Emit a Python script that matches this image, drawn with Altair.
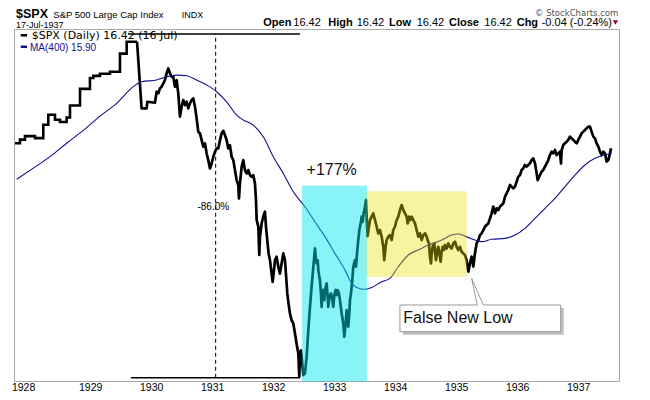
import altair as alt
import pandas as pd

# ---------------- data ----------------
# early part of the series is drawn as steps
step_year = [1927.76, 1927.841, 1927.923, 1928.087, 1928.223, 1928.305, 1928.415, 1928.497,
             1928.606, 1928.661, 1928.825, 1928.988, 1929.043, 1929.152, 1929.316, 1929.480,
             1929.590, 1929.760]
step_close = [16.9, 17.25, 17.6, 17.4, 18.8, 19.9, 19.35, 19.1,
              19.6, 21.0, 23.1, 24.6, 24.9, 25.2, 25.5, 28.3,
              30.3, 30.3]

daily_year = [
    1929.760, 1929.835, 1929.917, 1929.928, 1930.054, 1930.081, 1930.109, 1930.136, 1930.163, 1930.191,
    1930.218, 1930.245, 1930.272, 1930.300, 1930.327, 1930.354, 1930.382, 1930.409, 1930.436, 1930.464,
    1930.491, 1930.518, 1930.546, 1930.573, 1930.600, 1930.628, 1930.655, 1930.682, 1930.710, 1930.737,
    1930.764, 1930.792, 1930.819, 1930.846, 1930.874, 1930.901, 1930.928, 1930.956, 1930.983, 1931.010,
    1931.038, 1931.065, 1931.092, 1931.120, 1931.147, 1931.174, 1931.201, 1931.229, 1931.256, 1931.283,
    1931.311, 1931.338, 1931.365, 1931.393, 1931.420, 1931.431, 1931.447, 1931.475, 1931.502, 1931.529,
    1931.557, 1931.584, 1931.611, 1931.639, 1931.666, 1931.693, 1931.710, 1931.721, 1931.748, 1931.764,
    1931.775, 1931.803, 1931.830, 1931.857, 1931.874, 1931.895, 1931.917, 1931.939, 1931.966, 1931.983,
    1932.005, 1932.021, 1932.048, 1932.076, 1932.103, 1932.130, 1932.158, 1932.185, 1932.201, 1932.223,
    1932.251, 1932.267, 1932.294, 1932.322, 1932.349, 1932.376, 1932.404, 1932.420, 1932.431, 1932.447,
    1932.464, 1932.486, 1932.513, 1932.540, 1932.568, 1932.595, 1932.622, 1932.650, 1932.677, 1932.688,
    1932.704, 1932.721, 1932.732, 1932.748, 1932.759, 1932.775, 1932.786, 1932.797, 1932.813, 1932.830,
    1932.841, 1932.868, 1932.885, 1932.895, 1932.912, 1932.939, 1932.961, 1932.977, 1932.994, 1933.016,
    1933.032, 1933.048, 1933.070, 1933.087, 1933.114, 1933.141, 1933.158, 1933.180, 1933.196, 1933.212,
    1933.223, 1933.240, 1933.251, 1933.267, 1933.289, 1933.305, 1933.333, 1933.349, 1933.371, 1933.387,
    1933.404, 1933.431, 1933.442, 1933.458, 1933.475, 1933.497, 1933.513, 1933.529, 1933.540, 1933.562,
    1933.579, 1933.606, 1933.633, 1933.661, 1933.688, 1933.715, 1933.742, 1933.770, 1933.797, 1933.813,
    1933.835, 1933.852, 1933.879, 1933.906, 1933.934, 1933.961, 1933.988, 1934.016, 1934.043, 1934.070,
    1934.098, 1934.125, 1934.152, 1934.180, 1934.196, 1934.218, 1934.240, 1934.262, 1934.289, 1934.316,
    1934.344, 1934.371, 1934.398, 1934.426, 1934.453, 1934.480, 1934.508, 1934.524, 1934.546, 1934.562,
    1934.579, 1934.590, 1934.606, 1934.633, 1934.644, 1934.661, 1934.682, 1934.699, 1934.715, 1934.737,
    1934.753, 1934.770, 1934.792, 1934.808, 1934.835, 1934.863, 1934.890, 1934.917, 1934.945, 1934.972,
    1934.999, 1935.027, 1935.054, 1935.081, 1935.109, 1935.136, 1935.163, 1935.191, 1935.218, 1935.245,
    1935.273, 1935.300, 1935.327, 1935.355, 1935.382, 1935.409, 1935.437, 1935.464, 1935.491, 1935.518,
    1935.546, 1935.573, 1935.600, 1935.628, 1935.655, 1935.682, 1935.710, 1935.737, 1935.764, 1935.792,
    1935.819, 1935.846, 1935.874, 1935.901, 1935.928, 1935.956, 1935.983, 1936.010, 1936.038, 1936.065,
    1936.092, 1936.120, 1936.147, 1936.174, 1936.202, 1936.229, 1936.256, 1936.284, 1936.311, 1936.327,
    1936.366, 1936.393, 1936.420, 1936.448, 1936.475, 1936.502, 1936.529, 1936.557, 1936.584, 1936.611,
    1936.639, 1936.666, 1936.693, 1936.710, 1936.721, 1936.748, 1936.775, 1936.803, 1936.830, 1936.857,
    1936.885, 1936.912, 1936.939, 1936.967, 1936.994, 1937.021, 1937.049, 1937.076, 1937.103, 1937.131,
    1937.158, 1937.185, 1937.212, 1937.240, 1937.267, 1937.294, 1937.322, 1937.349, 1937.376, 1937.404,
    1937.431, 1937.459, 1937.486, 1937.513, 1937.530,
]
daily_close = [
    30.3, 20.65, 20.65, 21.45, 21.33, 22.73, 22.51, 23.17, 23.39, 23.84,
    24.31, 25.25, 25.99, 25.25, 24.77, 24.77, 23.39, 24.31, 22.51, 19.69,
    20.85, 21.66, 21.04, 21.45, 20.65, 21.25, 21.66, 21.87, 20.85, 19.49,
    18.05, 17.88, 17.20, 16.56, 16.88, 15.93, 15.33, 14.61, 15.04, 15.63,
    16.09, 16.40, 16.40, 17.20, 17.88, 18.15, 17.71, 17.20, 16.40, 16.71,
    15.63, 15.33, 14.48, 13.67, 13.28, 12.30, 13.41, 14.76, 15.33, 14.48,
    14.20, 14.48, 14.06, 13.93, 14.06, 13.41, 12.18, 10.87, 10.46, 8.88,
    9.86, 10.66, 11.08, 11.39, 10.46, 9.67, 8.96, 8.62, 7.98, 7.61,
    8.14, 8.62, 8.79, 8.30, 7.98, 8.46, 8.96, 8.62, 7.98, 7.12,
    6.59, 6.34, 6.10, 5.99, 5.65, 5.33, 5.03, 4.40, 5.03, 5.13,
    4.84, 4.45, 4.49, 4.94, 5.76, 6.59, 7.40, 8.30, 9.22, 8.79,
    8.46, 8.62, 8.14, 7.84, 7.69, 7.12, 6.59, 7.12, 7.26, 6.85,
    7.26, 7.54, 6.98, 6.59, 6.98, 7.12, 6.85, 6.59, 7.05, 7.26,
    7.05, 7.26, 7.12, 6.85, 6.35, 5.99, 5.55, 5.99, 6.47, 6.11,
    5.88, 6.35, 6.85, 7.12, 7.69, 8.30, 8.62, 8.30, 9.14, 9.68,
    10.25, 10.75, 11.07, 10.75, 11.28, 11.72, 12.18, 10.65, 9.90, 10.45,
    10.86, 11.07, 11.28, 10.86, 10.45, 10.06, 10.25, 9.87, 9.31, 8.62,
    9.31, 9.68, 9.87, 9.96, 9.68, 10.25, 10.45, 10.86, 11.07, 11.50,
    11.84, 11.50, 11.28, 11.07, 10.65, 11.07, 10.86, 11.07, 10.86, 10.65,
    10.25, 9.87, 10.06, 9.68, 9.96, 10.06, 9.87, 9.68, 9.49, 8.79,
    8.46, 8.96, 9.31, 9.49, 9.05, 8.62, 9.14, 9.31, 8.96, 8.54,
    9.05, 9.31, 9.14, 9.40, 9.22, 9.49, 9.31, 9.22, 9.49, 9.59,
    9.31, 9.14, 9.31, 9.05, 8.96, 8.88, 8.62, 8.07, 8.46, 8.80,
    8.31, 8.97, 9.50, 9.68, 9.96, 10.06, 10.25, 10.45, 10.55, 10.65,
    10.96, 11.28, 11.73, 11.28, 11.62, 11.50, 11.73, 11.84, 11.95, 12.42,
    12.66, 12.91, 13.29, 13.16, 13.03, 13.16, 13.54, 13.94, 14.07, 14.49,
    14.62, 14.91, 14.77, 14.91, 15.05, 15.34, 15.49, 15.05, 14.21, 13.67,
    14.07, 14.35, 14.49, 14.77, 15.05, 15.34, 15.79, 16.10, 15.94, 16.25,
    15.79, 15.94, 16.10, 15.05, 16.25, 16.73, 16.89, 17.05, 17.22, 17.55,
    17.38, 17.22, 17.05, 16.89, 17.22, 17.55, 17.89, 18.06, 18.24, 18.41,
    18.59, 18.59, 18.06, 17.55, 17.38, 16.89, 16.57, 16.10, 15.79, 16.10,
    15.94, 15.20, 15.34, 15.94, 16.41,
]

ma_year = [1927.787, 1928.005, 1928.333, 1928.606, 1928.879, 1929.152, 1929.426, 1929.698, 1929.836,
           1930.081, 1930.245, 1930.409, 1930.573, 1930.737, 1930.901, 1931.065, 1931.229, 1931.393,
           1931.502, 1931.666, 1931.830, 1931.994, 1932.158, 1932.322, 1932.513, 1932.677, 1932.841,
           1933.005, 1933.169, 1933.279, 1933.361, 1933.497, 1933.606, 1933.770, 1933.906, 1934.043,
           1934.207, 1934.370, 1934.534, 1934.754, 1934.918, 1935.026, 1935.136, 1935.300, 1935.410,
           1935.574, 1935.792, 1935.956, 1936.120, 1936.284, 1936.448, 1936.611, 1936.775, 1936.939,
           1937.103, 1937.267, 1937.431, 1937.541]
ma_value = [13.73, 14.45, 15.64, 16.9, 18.2, 19.75, 21.26, 23.40, 24.08,
            24.31, 24.77, 25.01, 24.92, 24.31, 23.62, 22.73, 21.45, 19.87,
            19.31, 18.76, 17.54, 15.63, 14.20, 12.78, 11.72, 10.75, 9.87,
            8.96, 8.14, 7.54, 7.37, 7.29, 7.37, 7.61, 7.76, 8.30,
            8.88, 9.14, 9.40, 9.68, 9.96, 10.02, 9.90, 9.68, 9.59,
            9.72, 9.77, 9.96, 10.35, 10.96, 11.62, 12.30, 13.16, 14.07,
            14.91, 15.49, 15.79, 15.92]

# year-label positions (the first label sits a little left of the year start, as in the source)
x_tick_pos = [1927.9, 1929, 1930, 1931, 1932, 1933, 1934, 1935, 1936, 1937]
x_tick_labels = ["1928", "1929", "1930", "1931", "1932", "1933", "1934", "1935", "1936", "1937"]
y_ticks = [4.5, 5, 5.5, 6, 6.5, 7, 8, 9, 10, 11, 12, 13, 14, 15, 16, 17, 18, 19, 20,
           21, 22, 23, 24, 25, 26, 27, 28, 29, 30, 31, 32]
y_labels = [6, 8, 10, 12, 14, 16, 18, 20, 22, 24, 26, 28, 30, 32]

# annotation values
peak_span = [1929.611, 1932.431]
peak_level = 31.69
low_span = [1929.660, 1932.431]
low_level = 4.38
drop_x = 1931.049
drop_label = "-86.0%"
drop_label_at = [1931.010, 11.72]
rally_box = [1932.469, 1933.525, 13.21]
range_box = [1933.525, 1935.164, 7.84, 12.8]
rally_label = "+177%"
rally_label_at = [1932.951, 14.07]
callout_text = "False New Low"
callout_box = [1934.070, 1936.705, 5.71, 6.66]
callout_text_at = [1934.125, 5.99]
callout_tip = [1935.246, 7.76]
callout_base = [1935.338, 1935.436]

# ---------------- chart ----------------
XDOM = [1927.743, 1937.661]
YDOM = [4.30, 32.61]
PLOT_W, PLOT_H = 605, 352
xs = alt.Scale(domain=XDOM, nice=False, zero=False)
ys = alt.Scale(type="log", domain=YDOM, nice=False)

even = " || ".join(f"datum.value == {v}" for v in y_labels)
y_axis = alt.Axis(orient="right", values=y_ticks, labelExpr=f"({even}) ? datum.label : ''",
                  title=None, grid=False, domain=False, tickSize=3, tickColor="#a8a8a8",
                  labelPadding=1, labelFont="Liberation Sans", labelFontSize=10, labelColor="#000",
                  labelOverlap=False, labelBaseline="middle", labelAlign="left", format="~g")

FONT = "Liberation Sans"
NAVY = "#10108c"

steps = pd.DataFrame({"year": step_year, "close": step_close})
daily = pd.DataFrame({"year": daily_year, "close": daily_close})
ma = pd.DataFrame({"year": ma_year, "ma": ma_value})
xlab = pd.DataFrame({"pos": x_tick_pos, "label": x_tick_labels})
one = pd.DataFrame({"k": [0]})

step_line = alt.Chart(steps).mark_line(color="#000", strokeWidth=2.6, interpolate="step-after").encode(
    x=alt.X("year:Q", scale=xs, axis=None), y=alt.Y("close:Q", scale=ys, axis=y_axis))
daily_line = alt.Chart(daily).mark_line(color="#000", strokeWidth=2.7, strokeJoin="round").encode(
    x=alt.X("year:Q", scale=xs, axis=None), y=alt.Y("close:Q", scale=ys, axis=None))
ma_line = alt.Chart(ma).mark_line(color=NAVY, strokeWidth=1.1, interpolate="monotone").encode(
    x=alt.X("year:Q", scale=xs, axis=None), y=alt.Y("ma:Q", scale=ys, axis=None))
# year labels under the plot, positioned through the x scale
x_labels = alt.Chart(xlab).mark_text(font=FONT, fontSize=10.5, color="#000", align="center",
                                     baseline="alphabetic").encode(
    x=alt.X("pos:Q", scale=xs, axis=None), y=alt.value(PLOT_H + 10), text="label:N")


def hrect(x0, x1, lo, hi, **kw):
    d = pd.DataFrame({"x0": [x0], "x1": [x1], "lo": [lo], "hi": [hi]})
    return alt.Chart(d).mark_rect(**kw).encode(
        x=alt.X("x0:Q", scale=xs, axis=None), x2="x1:Q",
        y=alt.Y("lo:Q", scale=ys, axis=None), y2="hi:Q")


def seg(x0, x1, v0, v1, **kw):
    d = pd.DataFrame({"x0": [x0], "x1": [x1], "v0": [v0], "v1": [v1]})
    return alt.Chart(d).mark_rule(**kw).encode(
        x=alt.X("x0:Q", scale=xs, axis=None), x2="x1:Q",
        y=alt.Y("v0:Q", scale=ys, axis=None), y2="v1:Q")


def dtext(text, x, v, **kw):
    d = pd.DataFrame({"x": [x], "v": [v]})
    return alt.Chart(d).mark_text(text=text, **kw).encode(
        x=alt.X("x:Q", scale=xs, axis=None), y=alt.Y("v:Q", scale=ys, axis=None))


def ptext(text, px, py, size, font=FONT, weight="normal", color="#000", align="left"):
    return alt.Chart(one).mark_text(text=text, fontSize=size, font=font, fontWeight=weight,
                                    color=color, align=align, baseline="alphabetic").encode(
        x=alt.value(px), y=alt.value(py))


def prule(px0, px1, py, color, width):
    return alt.Chart(one).mark_rule(color=color, strokeWidth=width).encode(
        x=alt.value(px0), x2=alt.value(px1), y=alt.value(py))


cyan = hrect(rally_box[0], rally_box[1], YDOM[0], rally_box[2], color="#00e8f0", opacity=0.46,
             stroke="#00d8e8", strokeWidth=1, strokeOpacity=0.7)
yellow = hrect(range_box[0], range_box[1], range_box[2], range_box[3], color="#ede100", opacity=0.37,
               stroke="#e0d640", strokeWidth=1, strokeOpacity=0.5)

top_line = seg(peak_span[0], peak_span[1], peak_level, peak_level, color="#000", strokeWidth=1.5)
bot_line = seg(low_span[0], low_span[1], low_level, low_level, color="#000", strokeWidth=1.5)
vdash = seg(drop_x, drop_x, low_level, peak_level, color="#000", strokeWidth=1, strokeDash=[4, 3])
drop_txt = dtext(drop_label, drop_label_at[0], drop_label_at[1], font=FONT, fontSize=10,
                 align="center", baseline="middle", color="#000")
rally_txt = dtext(rally_label, rally_label_at[0], rally_label_at[1], font=FONT, fontSize=16,
                  align="center", baseline="alphabetic", color="#111")

shadow = hrect(callout_box[0], callout_box[1], callout_box[2], callout_box[3], color="#bdbdbd",
               xOffset=3, x2Offset=3, yOffset=3, y2Offset=3)
box = hrect(callout_box[0], callout_box[1], callout_box[2], callout_box[3], color="#ffffff",
            stroke="#9a9a9a", strokeWidth=1)
gap = seg(callout_base[0], callout_base[1], callout_box[3], callout_box[3], color="#ffffff", strokeWidth=2)
wedge_l = seg(callout_tip[0], callout_base[0], callout_tip[1], callout_box[3], color="#9a9a9a", strokeWidth=1)
wedge_r = seg(callout_tip[0], callout_base[1], callout_tip[1], callout_box[3], color="#9a9a9a", strokeWidth=1)
call_txt = dtext(callout_text, callout_text_at[0], callout_text_at[1], font=FONT, fontSize=16,
                 align="left", baseline="alphabetic", color="#111")

# header and legend (outside / on top of the plot area)
hdr = [
    ptext("$SPX", 2, -11.2, 12.5, weight="bold"),
    ptext("S&P 500 Large Cap Index", 39.3, -11.4, 9.5),
    ptext("INDX", 167.7, -11.4, 9),
    ptext("17-Jul-1937", 2, -1.0, 9),
    ptext("\u00a9 StockCharts.com", 604.3, -13.5, 8.5, font="DejaVu Sans", color="#555", align="right"),
    ptext("Open", 249.3, -3, 11, weight="bold"),
    ptext("16.42", 279.3, -3, 11),
    ptext("High", 314.3, -3, 11, weight="bold"),
    ptext("16.42", 342.7, -3, 11),
    ptext("Low", 375, -3, 11, weight="bold"),
    ptext("16.42", 402.7, -3, 11),
    ptext("Close", 435, -3, 11, weight="bold"),
    ptext("16.42", 470.3, -3, 11),
    ptext("Chg", 502.7, -3, 11, weight="bold"),
    ptext("-0.04 (-0.24%)", 527.7, -3, 11),
    alt.Chart(one).mark_point(shape="triangle-down", filled=True, size=28, color="#990033",
                              opacity=1).encode(x=alt.value(601.5), y=alt.value(-6.5)),
    prule(6.7, 13, 6.3, "#000", 2.5),
    ptext("$SPX (Daily) 16.42 (16 Jul)", 17.7, 10.3, 11, font="DejaVu Sans"),
    prule(6.7, 13, 17.8, NAVY, 2.5),
    ptext("MA(400) 15.90", 16, 21.6, 10, color=NAVY),
]

chart = alt.layer(
    step_line, daily_line, ma_line, cyan, yellow,
    top_line, bot_line, vdash, drop_txt, rally_txt,
    shadow, box, gap, wedge_l, wedge_r, call_txt, x_labels,
    *hdr,
).properties(
    width=PLOT_W, height=PLOT_H,
    autosize=alt.AutoSizeParams(type="none"),
    padding={"left": 6, "top": 21, "right": 23, "bottom": 11},
    background="#ffffff",
).configure_view(stroke="#a8a8a8", strokeWidth=1)

chart.save("out.html", embed_options={"renderer": "svg", "actions": False})
